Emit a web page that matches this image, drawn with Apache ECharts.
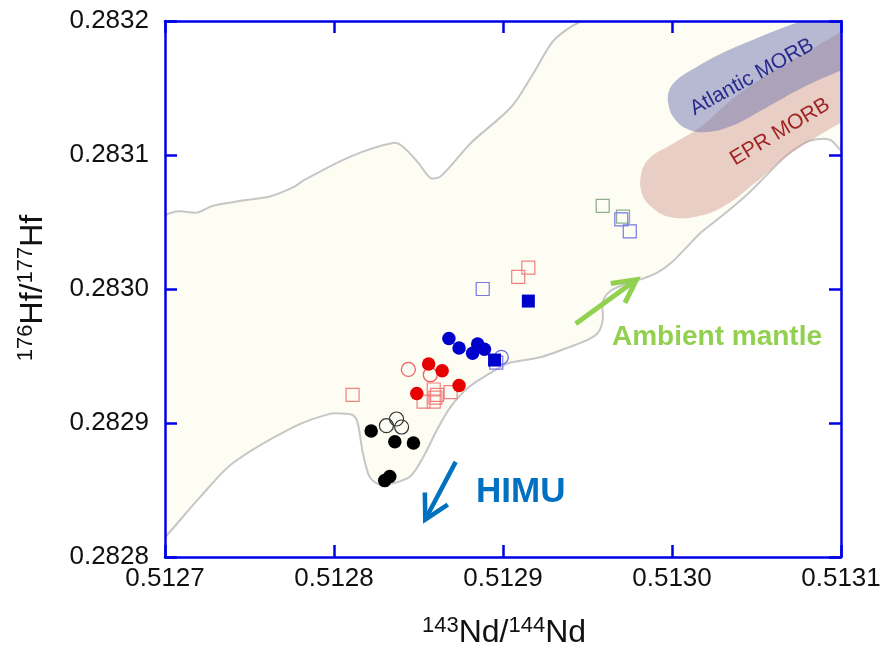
<!DOCTYPE html>
<html><head><meta charset="utf-8">
<script src="https://cdn.jsdelivr.net/npm/echarts@6/dist/echarts.min.js"></script>
<style>html,body{margin:0;padding:0;background:#fff}#c{width:883px;height:649px}</style>
</head><body><div id="c"></div>
<script>
// ---- axis ticks ----
const xTicks = [0.5127, 0.5128, 0.5129, 0.5130, 0.5131];
const yTicks = [0.2828, 0.2829, 0.2830, 0.2831, 0.2832];

// ---- field outline (143Nd/144Nd, 176Hf/177Hf) ----
const fieldOutline = [
  [0.512700,0.282815],[0.512700,0.283054],[0.512704,0.283057],[0.512709,0.283058],[0.512719,0.283057],
  [0.512728,0.283062],[0.512746,0.283066],[0.512762,0.283069],[0.512776,0.283076],[0.512782,0.283081],
  [0.512810,0.283099],[0.512835,0.283109],[0.512841,0.283106],[0.512850,0.283094],[0.512857,0.283083],
  [0.512863,0.283084],[0.512881,0.283109],[0.512905,0.283136],[0.512918,0.283161],[0.512929,0.283184],
  [0.512937,0.283193],[0.512945,0.283199],[0.512949,0.283200],[0.513100,0.283200],[0.513100,0.283104],
  [0.513098,0.283106],[0.513094,0.283111],[0.513088,0.283112],[0.513080,0.283110],[0.513068,0.283100],
  [0.513056,0.283085],[0.513044,0.283070],[0.513030,0.283055],[0.513017,0.283042],[0.513007,0.283029],
  [0.512999,0.283019],[0.512991,0.283012],[0.512981,0.283007],[0.512973,0.283004],[0.512963,0.282998],
  [0.512959,0.282990],[0.512959,0.282977],[0.512956,0.282967],[0.512950,0.282962],[0.512940,0.282957],
  [0.512922,0.282949],[0.512904,0.282945],[0.512896,0.282940],[0.512880,0.282927],[0.512869,0.282912],
  [0.512861,0.282895],[0.512853,0.282875],[0.512845,0.282860],[0.512835,0.282855],[0.512827,0.282854],
  [0.512821,0.282860],[0.512817,0.282878],[0.512814,0.282900],[0.512811,0.282906],[0.512805,0.282907],
  [0.512798,0.282907],[0.512776,0.282897],[0.512740,0.282870],[0.512721,0.282845],[0.512701,0.282816]
];
const atlanticMORB = [
  [0.513105,0.283214],[0.513088,0.283205],[0.513068,0.283196],[0.513048,0.283186],[0.513028,0.283175],
  [0.513011,0.283163],[0.513002,0.283155],[0.512998,0.283147],[0.512998,0.283137],[0.513001,0.283128],
  [0.513008,0.283120],[0.513018,0.283117],[0.513034,0.283121],[0.513058,0.283137],[0.513080,0.283152],
  [0.513100,0.283163],[0.513117,0.283172]
];
const eprMORB = [
  [0.513117,0.283204],[0.513100,0.283192],[0.513080,0.283177],[0.513054,0.283158],[0.513034,0.283140],
  [0.513017,0.283121],[0.513000,0.283108],[0.512987,0.283098],[0.512982,0.283087],[0.512982,0.283072],
  [0.512988,0.283061],[0.512998,0.283054],[0.513014,0.283054],[0.513031,0.283062],[0.513050,0.283080],
  [0.513067,0.283098],[0.513085,0.283113],[0.513100,0.283124],[0.513117,0.283135]
];

// ---- samples ----
const blackFilledCircles = [[0.512822,0.282894],[0.512836,0.282886],[0.512847,0.282885],[0.512830,0.282857],[0.512833,0.282860]];
const blackOpenCircles = [[0.512831,0.282898],[0.512837,0.282903],[0.512840,0.282897]];
const redOpenSquares = [[0.512811,0.282921],[0.512859,0.282925],[0.512861,0.282921],[0.512853,0.282916],[0.512859,0.282916],
  [0.512869,0.282923],[0.512860,0.282919],[0.512909,0.283009],[0.512915,0.283016]];
const redOpenCircles = [[0.512844,0.282940],[0.512857,0.282936]];
const redFilledCircles = [[0.512856,0.282944],[0.512864,0.282939],[0.512849,0.282922],[0.512874,0.282928]];
const greenOpenSquares = [[0.512959,0.283062],[0.512971,0.283054]];
const blueOpenSquares = [[0.512896,0.282945],[0.512888,0.283000],[0.512970,0.283052],[0.512975,0.283043]];
const blueOpenCircles = [[0.512899,0.282949]];
const blueFilledSquares = [[0.512895,0.282947],[0.512915,0.282991]];
const blueFilledCircles = [[0.512868,0.282963],[0.512874,0.282956],[0.512885,0.282959],[0.512889,0.282955],[0.512882,0.282952]];

// ---- arrows [tail, tip] ----
const ambientArrow = [[0.512943,0.282974],[0.512979,0.283007]];
const himuArrow = [[0.512872,0.282871],[0.512854,0.282828]];

const FONT = '"Liberation Sans", Arial, Helvetica, sans-serif';
const AXIS_BLUE = '#0000e6';

function polySeries(points, fill, stroke, lw, smooth, z) {
  return {
    type: 'custom', coordinateSystem: 'cartesian2d', clip: true, silent: true, z: z,
    data: [points[0]],
    renderItem: function (params, api) {
      return {
        type: 'polygon',
        shape: { points: points.map(p => api.coord(p)), smooth: smooth },
        style: { fill: fill, stroke: stroke, lineWidth: lw }
      };
    }
  };
}
function arrowSeries(pts, color, width, wingLen, wingAng, z) {
  return {
    type: 'custom', coordinateSystem: 'cartesian2d', silent: true, z: z,
    data: [pts[0]],
    renderItem: function (params, api) {
      const a = api.coord(pts[0]), b = api.coord(pts[1]);
      const ang = Math.atan2(a[1] - b[1], a[0] - b[0]);
      const w1 = [b[0] + wingLen * Math.cos(ang + wingAng), b[1] + wingLen * Math.sin(ang + wingAng)];
      const w2 = [b[0] + wingLen * Math.cos(ang - wingAng), b[1] + wingLen * Math.sin(ang - wingAng)];
      const e = [b[0] + 2 * Math.cos(ang), b[1] + 2 * Math.sin(ang)];
      return {
        type: 'group', children: [
          { type: 'line', shape: { x1: a[0], y1: a[1], x2: e[0], y2: e[1] }, style: { stroke: color, lineWidth: width } },
          { type: 'polyline', shape: { points: [w1, b, w2] }, style: { stroke: color, lineWidth: width, fill: null, lineJoin: 'miter' } }
        ]
      };
    }
  };
}
function scatter(data, symbol, size, fill, stroke, bw, z) {
  return {
    type: 'scatter', data: data, symbol: symbol, symbolSize: size, silent: true, z: z,
    itemStyle: { color: fill, borderColor: stroke, borderWidth: bw, opacity: 1 }
  };
}
const NONE = 'rgba(0,0,0,0)';

function axisCommon(extra) {
  return Object.assign({
    type: 'value', z: 10,
    axisLine: { show: true, onZero: false, lineStyle: { color: AXIS_BLUE, width: 2.5 } },
    axisTick: { show: true, inside: true, length: 12, lineStyle: { color: AXIS_BLUE, width: 2.5 } },
    splitLine: { show: false }
  }, extra);
}

const titleRich = {
  s: { fontSize: 22, fontFamily: FONT, fill: '#111', verticalAlign: 'top', lineHeight: 18 },
  n: { fontSize: 32, fontFamily: FONT, fill: '#111', verticalAlign: 'bottom', lineHeight: 34 }
};

const chart = echarts.init(document.getElementById('c'), null, { renderer: 'canvas' });
chart.setOption({
  animation: false,
  backgroundColor: '#ffffff',
  textStyle: { fontFamily: FONT },
  grid: { left: 165, top: 21, right: 42, bottom: 92, outerBoundsMode: 'none' },
  xAxis: [
    axisCommon({ position: 'bottom', min: xTicks[0], max: xTicks[xTicks.length - 1], interval: 0.0001,
      axisLabel: { show: true, fontSize: 26, color: '#111', margin: 9, fontFamily: FONT,
        formatter: v => v.toFixed(4) } }),
    axisCommon({ position: 'top', min: xTicks[0], max: xTicks[xTicks.length - 1], interval: 0.0001,
      axisLabel: { show: false } })
  ],
  yAxis: [
    axisCommon({ position: 'left', min: yTicks[0], max: yTicks[yTicks.length - 1], interval: 0.0001,
      axisLabel: { show: true, fontSize: 26, color: '#111', margin: 16, fontFamily: FONT,
        formatter: v => v.toFixed(4) } }),
    axisCommon({ position: 'right', min: yTicks[0], max: yTicks[yTicks.length - 1], interval: 0.0001,
      axisLabel: { show: false } })
  ],
  series: [
    polySeries(fieldOutline, '#fdfdf3', '#c6c6c6', 2, 0.3, 1),
    polySeries(eprMORB, 'rgba(211,160,150,0.5)', null, 0, 0.4, 2),
    polySeries(atlanticMORB, 'rgba(112,118,176,0.5)', null, 0, 0.4, 3),
    arrowSeries(ambientArrow, '#92d050', 5, 26, 0.48, 4),
    arrowSeries(himuArrow, '#0070c0', 4.5, 27, 0.5, 4),
    scatter(blackOpenCircles, 'circle', 14, NONE, '#333333', 1.2, 5),
    scatter(blackFilledCircles, 'circle', 13.5, '#000000', '#000000', 0, 5),
    scatter(redOpenSquares, 'rect', 13, NONE, '#f08080', 1.2, 5),
    scatter(redOpenCircles, 'circle', 14, NONE, '#f06060', 1.3, 5),
    scatter(redFilledCircles, 'circle', 13.5, '#e60000', '#e60000', 0, 6),
    scatter(greenOpenSquares, 'rect', 13, NONE, '#8fb08f', 1.3, 5),
    scatter(blueOpenSquares, 'rect', 13, NONE, '#7878e8', 1.2, 6),
    scatter(blueOpenCircles, 'circle', 14, NONE, '#6a6ae0', 1.3, 6),
    scatter(blueFilledSquares, 'rect', 13, '#0000cc', '#0000cc', 0, 7),
    scatter(blueFilledCircles, 'circle', 13.5, '#0000cc', '#0000cc', 0, 7)
  ],
  graphic: [
    { type: 'text', x: 504, y: 632, z: 20, silent: true,
      style: { text: '{s|143}{n|Nd/}{s|144}{n|Nd}', align: 'center', verticalAlign: 'middle', rich: titleRich } },
    { type: 'text', x: 32, y: 288, rotation: Math.PI / 2, z: 20, silent: true,
      style: { text: '{s|176}{n|Hf/}{s|177}{n|Hf}', align: 'center', verticalAlign: 'middle', rich: titleRich } },
    { type: 'text', x: 612, y: 337, z: 20, silent: true,
      style: { text: 'Ambient mantle', fontSize: 28, fontWeight: 'bold', fontFamily: FONT, fill: '#92d050', verticalAlign: 'middle' } },
    { type: 'text', x: 476, y: 492, z: 20, silent: true,
      style: { text: 'HIMU', fontSize: 35, fontWeight: 'bold', fontFamily: FONT, fill: '#0070c0', verticalAlign: 'middle' } },
    { type: 'text', x: 752, y: 77, rotation: 29 * Math.PI / 180, z: 20, silent: true,
      style: { text: 'Atlantic MORB', fontSize: 21, fontFamily: FONT, fill: '#2a2a8c', align: 'center', verticalAlign: 'middle' } },
    { type: 'text', x: 780, y: 132, rotation: 31 * Math.PI / 180, z: 20, silent: true,
      style: { text: 'EPR MORB', fontSize: 21, fontFamily: FONT, fill: '#a02424', align: 'center', verticalAlign: 'middle' } }
  ]
});
</script></body></html>
